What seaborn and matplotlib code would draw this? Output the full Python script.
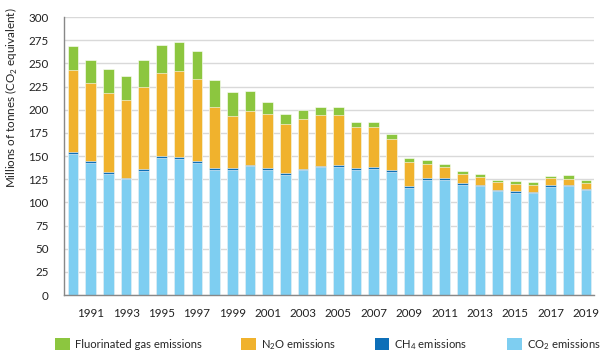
import seaborn as sns
import pandas as pd
import numpy as np
from matplotlib import pyplot as plt
from matplotlib.patches import Patch

# data (Mt CO2 eq)
years = list(range(1990, 2020))
co2 = [152.5, 143, 131, 125, 134, 148, 147, 143, 135, 135,
       139, 135.5, 130, 135, 138, 138.5, 135, 136.5, 133, 116,
       124.5, 124.5, 119, 117.5, 112, 110.5, 110, 117, 117.5, 113]
ch4 = [1.8, 1.6, 1.7, 1.6, 1.6, 1.6, 1.6, 1.7, 1.7, 1.7,
       1.6, 1.5, 1.5, 1.5, 1.5, 1.6, 1.7, 1.6, 1.7, 1.6,
       1.6, 1.6, 1.6, 1.5, 1.6, 1.7, 1.5, 1.4, 1.5, 1.5]
n2o = [88.3, 84.2, 84.9, 83.8, 88.9, 90, 93.1, 88.5, 66.5, 56.8,
       58.3, 58.3, 53.6, 53.7, 54.7, 53.9, 44.6, 43.5, 33.4, 26.3,
       15.1, 11.8, 10, 8.3, 8.7, 7.9, 6.9, 7.9, 6.2, 6.5]
fgas = [26.7, 25.2, 26.6, 25.9, 29.5, 30.4, 31.3, 29.9, 29.1, 25.5,
        20.9, 13.3, 10.1, 9.6, 8.7, 8.6, 5.4, 5.1, 5.4, 3.6,
        4.3, 3.3, 3.3, 2.9, 2.2, 2.9, 3.9, 2.4, 4, 2.9]

labels = ['Fluorinated gas emissions', 'N$_2$O emissions',
          'CH$_4$ emissions', 'CO$_2$ emissions']
colors = ['#8CC63F', '#F0B22D', '#0D6FB8', '#7ECEF1']

df = pd.DataFrame({'year': [str(y) for y in years], 'co2': co2, 'ch4': ch4,
                   'n2o': n2o, 'fgas': fgas})
df['s_co2'] = df['co2']
df['s_ch4'] = df['s_co2'] + df['ch4']
df['s_n2o'] = df['s_ch4'] + df['n2o']
df['s_fgas'] = df['s_n2o'] + df['fgas']

sns.set_theme(style='whitegrid')
plt.rcParams['font.family'] = ['Lato', 'DejaVu Sans']
plt.rcParams['mathtext.fontset'] = 'custom'
plt.rcParams['mathtext.rm'] = 'Lato'

fig, ax = plt.subplots(figsize=(6.15, 3.63), dpi=100)
fig.subplots_adjust(left=0.104, right=0.966, top=0.953, bottom=0.187)

for col, c in zip(['s_fgas', 's_n2o', 's_ch4', 's_co2'], colors):
    sns.barplot(data=df, x='year', y=col, color=c, width=0.6,
                saturation=1, edgecolor='white', linewidth=0.4, ax=ax)

ax.set_ylim(0, 300)
ax.set_yticks(np.arange(0, 301, 25))
ax.set_xlim(-0.51, len(years) - 0.55)
ax.set_xticks(range(1, len(years), 2))
ax.set_xticklabels([str(y) for y in years[1::2]])
ax.set_xlabel('')
ax.set_ylabel('Millions of tonnes (CO$_2$ equivalent)', fontsize=8.4,
              color='#222222')
ax.yaxis.set_label_coords(-0.083, 0.71)
ax.tick_params(axis='y', labelsize=8.4, colors='#222222', length=0, pad=11)
ax.tick_params(axis='x', labelsize=8.4, colors='#222222', length=0, pad=9)
ax.grid(axis='x', visible=False)
ax.grid(axis='y', color='#D9D9D9', linewidth=1)
ax.set_axisbelow(True)
for s in ['top', 'right']:
    ax.spines[s].set_visible(False)
for s in ['left', 'bottom']:
    ax.spines[s].set_color('#888888')
    ax.spines[s].set_linewidth(1)

handles = [Patch(facecolor=c, edgecolor='none') for c in colors]
fig.legend(handles, labels, loc='center', ncol=4, frameon=False,
           bbox_to_anchor=(0.533, 0.052), fontsize=8.1, handlelength=1.3,
           handleheight=1.3, columnspacing=3.5, handletextpad=0.45)

fig.savefig('out.png', dpi=100)
